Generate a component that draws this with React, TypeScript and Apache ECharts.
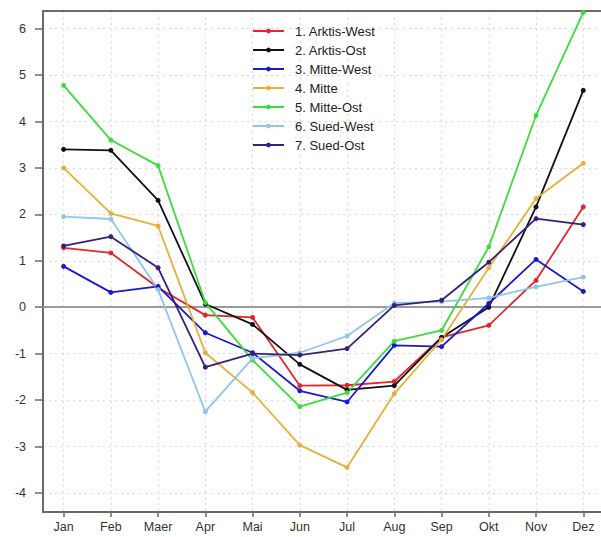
import React, { useEffect, useRef } from "react";
import * as echarts from "echarts";

const months = ["Jan", "Feb", "Maer", "Apr", "Mai", "Jun", "Jul", "Aug", "Sep", "Okt", "Nov", "Dez"];
const yTicks = [-4, -3, -2, -1, 0, 1, 2, 3, 4, 5, 6];

const arktisWest = [1.28, 1.17, 0.42, -0.17, -0.22, -1.69, -1.68, -1.6, -0.65, -0.39, 0.58, 2.16];
const arktisOst = [3.4, 3.38, 2.3, 0.07, -0.37, -1.23, -1.78, -1.69, -0.65, 0.0, 2.16, 4.67];
const mitteWest = [0.88, 0.32, 0.45, -0.55, -0.98, -1.8, -2.04, -0.82, -0.85, 0.08, 1.03, 0.34];
const mitte = [3.0, 2.02, 1.75, -0.98, -1.84, -2.97, -3.45, -1.86, -0.7, 0.85, 2.34, 3.1];
const mitteOst = [4.78, 3.6, 3.05, 0.1, -1.14, -2.14, -1.84, -0.73, -0.5, 1.3, 4.13, 6.35];
const suedWest = [1.95, 1.9, 0.38, -2.25, -1.1, -0.98, -0.62, 0.09, 0.12, 0.2, 0.44, 0.65];
const suedOst = [1.32, 1.52, 0.85, -1.29, -1.0, -1.03, -0.89, 0.04, 0.15, 0.97, 1.91, 1.78];

const seriesNames = [
  "1. Arktis-West",
  "2. Arktis-Ost",
  "3. Mitte-West",
  "4. Mitte",
  "5. Mitte-Ost",
  "6. Sued-West",
  "7. Sued-Ost",
];
const seriesValues = [arktisWest, arktisOst, mitteWest, mitte, mitteOst, suedWest, suedOst];
const seriesColors = ["#e3262b", "#111111", "#1a1acc", "#e6b039", "#3ddc3d", "#92c4ea", "#35207e"];

const FONT = "'Liberation Sans', Arial, Helvetica, sans-serif";
const AXIS_COLOR = "#6b6b6b";

export default function App() {
  const ref = useRef<HTMLDivElement>(null);

  useEffect(() => {
    if (!ref.current) return;
    const chart = echarts.init(ref.current, undefined, { renderer: "svg" });
    const monthIdx = months.map((_, i) => i);

    const series: any[] = seriesNames.map((name, si) => ({
      name,
      type: "line",
      data: seriesValues[si].map((v, i) => [i, v]),
      symbol: "circle",
      symbolSize: 5,
      showSymbol: true,
      lineStyle: { width: 1.8, color: seriesColors[si] },
      itemStyle: { color: seriesColors[si] },
      z: 3,
    }));
    series[0].markLine = {
      silent: true,
      symbol: "none",
      label: { show: false },
      lineStyle: { color: "#9a9a9a", width: 2, type: "solid" },
      data: [{ yAxis: 0 }],
      z: 1,
    };

    const option: any = {
      animation: false,
      textStyle: { fontFamily: FONT },
      grid: { left: 43, right: 0, top: 11, bottom: 25 },
      legend: {
        orient: "vertical",
        left: 247,
        top: 19,
        itemWidth: 31,
        itemHeight: 6,
        itemGap: 5,
        data: seriesNames,
        textStyle: {
          fontFamily: FONT,
          fontSize: 13,
          color: "#222",
          lineHeight: 14,
          padding: [0, 0, 0, 6],
        },
      },
      xAxis: [
        {
          type: "value",
          min: -0.436,
          max: 11.375,
          position: "bottom",
          axisLine: { show: true, onZero: false, lineStyle: { color: AXIS_COLOR, width: 2 } },
          axisTick: {
            show: true,
            customValues: monthIdx,
            length: 5,
            lineStyle: { color: AXIS_COLOR, width: 1.5 },
          },
          axisLabel: {
            customValues: monthIdx,
            formatter: (v: number) => months[Math.round(v)],
            color: "#333",
            fontSize: 12.5,
            fontFamily: FONT,
            margin: 8,
          },
          splitLine: { show: true, lineStyle: { color: "#d9d9d9", type: [2, 4], width: 1 } },
        },
        {
          type: "value",
          min: -0.436,
          max: 11.375,
          position: "top",
          axisLine: { show: true, onZero: false, lineStyle: { color: AXIS_COLOR, width: 2 } },
          axisTick: { show: false },
          axisLabel: { show: false },
          splitLine: { show: false },
        },
      ],
      yAxis: {
        type: "value",
        min: -4.41,
        max: 6.38,
        axisLine: { show: true, onZero: false, lineStyle: { color: AXIS_COLOR, width: 2 } },
        axisTick: {
          show: true,
          customValues: yTicks,
          length: 8,
          lineStyle: { color: AXIS_COLOR, width: 1.5 },
        },
        axisLabel: {
          customValues: yTicks,
          color: "#333",
          fontSize: 12.5,
          fontFamily: FONT,
          margin: 17,
        },
        splitLine: { show: true, lineStyle: { color: "#d9d9d9", type: [2, 4], width: 1 } },
      },
      series,
    };
    chart.setOption(option);
    return () => chart.dispose();
  }, []);

  return (
    <div
      ref={ref}
      style={{ position: "absolute", left: 0, top: 0, width: 601, height: 537, background: "#fff" }}
    />
  );
}
